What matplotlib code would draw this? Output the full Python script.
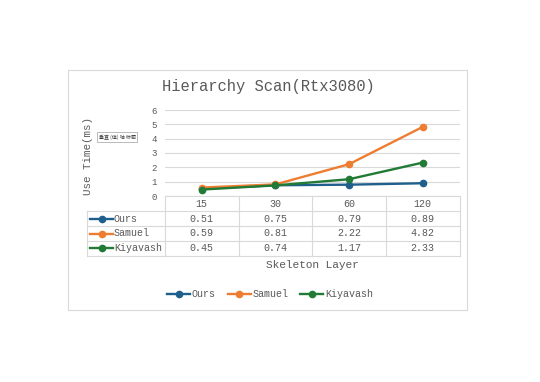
import numpy as np
import matplotlib
matplotlib.use('Agg')
from matplotlib import pyplot as plt
from matplotlib.lines import Line2D
from matplotlib.patches import Rectangle

# データ
layers = ['15', '30', '60', '120']
series_names = ['Ours', 'Samuel', 'Kiyavash']
ours = [0.51, 0.75, 0.79, 0.89]
samuel = [0.59, 0.81, 2.22, 4.82]
kiyavash = [0.45, 0.74, 1.17, 2.33]
colors = ['#1F5F8C', '#ED7D31', '#217A36']

W, H = 540, 382
txt = '#595959'
grid = '#D9D9D9'
mono = 'Liberation Mono'

plt.rcParams['font.family'] = mono

fig = plt.figure(figsize=(W / 100, H / 100), dpi=100)


def fx(px):
   return px / W


def fy(py):
   return 1 - py / H


# 外枠
fig.patches.append(Rectangle((fx(68), fy(310)), fx(467) - fx(68), fy(70) - fy(310),
                             transform=fig.transFigure, fill=False, edgecolor=grid, lw=0.8))

left, right, top, bottom = 165, 459.5, 110, 196
ax = fig.add_axes([fx(left), fy(bottom), fx(right) - fx(left), fy(top) - fy(bottom)])
x = np.arange(len(layers))
for name, vals, c in zip(series_names, [ours, samuel, kiyavash], colors):
   ax.plot(x, vals, color=c, lw=1.7, marker='o', ms=4.5, label=name)
ax.set_xlim(-0.5, len(layers) - 0.5)
ax.set_ylim(0, 6)
ax.set_yticks(range(7))
ax.tick_params(axis='y', length=0, labelsize=6.5, labelcolor=txt, pad=6)
ax.set_xticks([])
ax.grid(axis='y', color=grid, lw=0.8)
ax.set_axisbelow(True)
for s in ax.spines.values():
   s.set_visible(False)

fig.text(fx(88), fy(156), 'Use Time(ms)', rotation=90, ha='center', va='center',
         fontsize=7.8, color=txt)
fig.text(fx(117), fy(137), '垂直 (值) 轴 标题', ha='center', va='center', fontsize=3.6,
         color='#404040', family=['Noto Sans CJK SC', 'DejaVu Sans'],
         bbox=dict(boxstyle='square,pad=0.4', fc='white', ec='#A0A0A0', lw=0.5))

fig.text(fx(268), fy(87), 'Hierarchy Scan(Rtx3080)', ha='center', va='center',
         fontsize=11.2, color=txt)

# データテーブル
cw = (right - left) / len(layers)
row_y = [196, 211, 226, 241, 256]
tab_left = 87
lkw = dict(transform=fig.transFigure, color=grid, lw=0.8)
for i in range(len(layers) + 1):
   xx = left + i * cw
   fig.add_artist(Line2D([fx(xx), fx(xx)], [fy(196), fy(256)], **lkw))
fig.add_artist(Line2D([fx(tab_left), fx(tab_left)], [fy(211), fy(256)], **lkw))
for j, yy in enumerate(row_y):
   x0 = left if j == 0 else tab_left
   fig.add_artist(Line2D([fx(x0), fx(right)], [fy(yy), fy(yy)], **lkw))

for i, lab in enumerate(layers):
   fig.text(fx(left + (i + 0.5) * cw), fy(204), lab, ha='center', va='center',
            fontsize=7.2, color=txt)

for j, (name, vals, c) in enumerate(zip(series_names, [ours, samuel, kiyavash], colors)):
   yc = (row_y[j + 1] + row_y[j + 2]) / 2
   fig.add_artist(Line2D([fx(90), fx(113)], [fy(yc), fy(yc)], transform=fig.transFigure,
                         color=c, lw=1.7))
   fig.add_artist(Line2D([fx(101.5)], [fy(yc)], transform=fig.transFigure, color=c,
                         marker='o', ms=4.5))
   fig.text(fx(114), fy(yc), name, ha='left', va='center', fontsize=7.2, color=txt)
   for i, v in enumerate(vals):
      fig.text(fx(left + (i + 0.5) * cw), fy(yc), '%.2f' % v, ha='center', va='center',
               fontsize=7.2, color=txt)

fig.text(fx(312), fy(265), 'Skeleton Layer', ha='center', va='center',
         fontsize=8, color=txt)

handles, labels = ax.get_legend_handles_labels()
fig.legend(handles, labels, loc='center', bbox_to_anchor=(fx(270), fy(294)), ncol=3,
           frameon=False, fontsize=7.2, labelcolor=txt, handlelength=2.3,
           handletextpad=0.15, columnspacing=1.2, borderpad=0)

fig.savefig('out.png', dpi=100, facecolor='white')
